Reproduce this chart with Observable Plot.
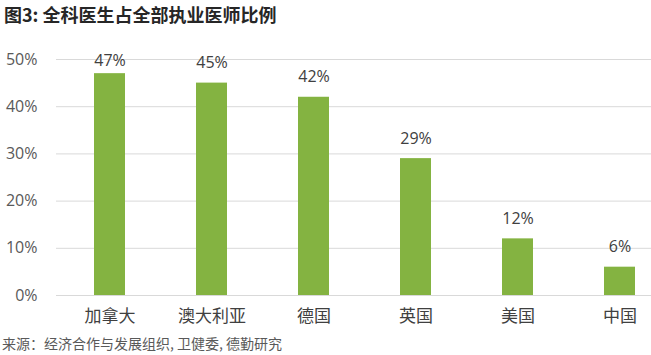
<!DOCTYPE html>
<html>
<head>
<meta charset="utf-8">
<script src="https://cdn.jsdelivr.net/npm/d3@7"></script>
<script src="https://cdn.jsdelivr.net/npm/@observablehq/plot@0.6"></script>
<style>
  body { margin: 0; background: #fff; width: 651px; height: 355px; position: relative; overflow: hidden; font-family: "Open Sans", "Noto Sans CJK SC", sans-serif; }
  #title { position: absolute; left: 4px; top: 2px; font-family: "Noto Sans CJK SC", sans-serif; font-weight: bold; font-size: 18px; color: #262626; line-height: 24px; }
  #chart { position: absolute; left: 0; top: 36px; }
  #source { position: absolute; left: 2px; top: 333px; font-family: "Noto Sans CJK SC", sans-serif; font-size: 14px; color: #595959; line-height: 20px; }
</style>
</head>
<body>
<div id="title">图3: 全科医生占全部执业医师比例</div>
<div id="chart"></div>
<div id="source">来源：经济合作与发展组织, 卫健委, 德勤研究</div>
<script>
const categories = ["加拿大", "澳大利亚", "德国", "英国", "美国", "中国"];
const values = [0.47, 0.45, 0.42, 0.29, 0.12, 0.06];
const yTicks = [0, 0.1, 0.2, 0.3, 0.4, 0.5];

const data = categories.map((c, i) => ({category: c, value: values[i]}));
const pct = d3.format(".0%");

const chart = Plot.plot({
  width: 651,
  height: 300,
  marginLeft: 56,
  marginRight: 0,
  marginTop: 23,
  marginBottom: 41,
  style: {fontFamily: "'Open Sans', 'Noto Sans CJK SC', sans-serif", background: "transparent"},
  x: {domain: categories, range: [56, 673], paddingInner: 0.7, paddingOuter: 0.35, align: 0.5, label: null},
  y: {domain: [0, 0.5], label: null},
  marks: [
    Plot.gridY(yTicks, {stroke: "#d9d9d9", strokeOpacity: 1}),
    Plot.barY(data, {x: "category", y: "value", fill: "#84b341"}),
    // labels kept inside the plot area (as the source chart does for the tallest bar)
    Plot.text(data, {x: "category", y: d => Math.min(d.value, 0.455), text: d => pct(d.value), dy: -20, fontSize: 16, fill: "#404040"}),
    Plot.axisY(yTicks, {tickFormat: pct, tickSize: 0, tickPadding: 19, fontSize: 16, color: "#595959", label: null}),
    Plot.axisX({tickSize: 0, tickPadding: 14, fontSize: 17, color: "#404040", fontFamily: "'Noto Sans CJK SC', sans-serif", label: null})
  ]
});
document.getElementById("chart").appendChild(chart);
</script>
</body>
</html>
